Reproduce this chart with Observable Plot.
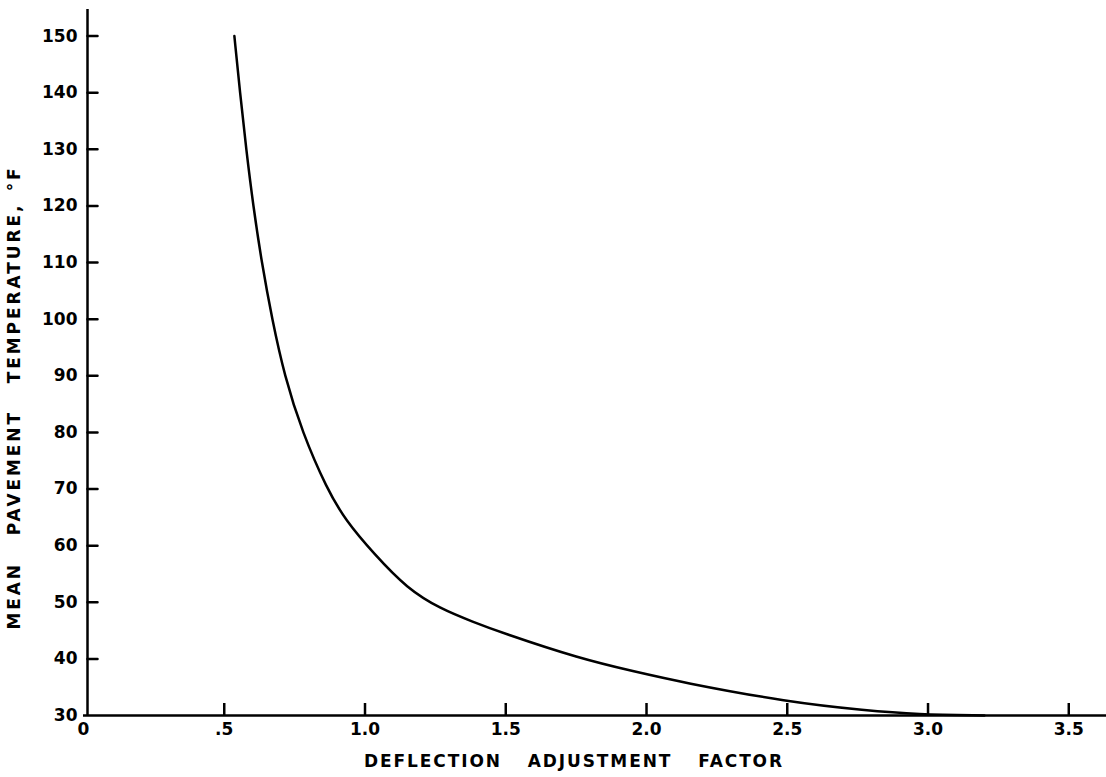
<!DOCTYPE html>
<html><head><meta charset="utf-8">
<script src="https://cdn.jsdelivr.net/npm/d3@7"></script>
<script src="https://cdn.jsdelivr.net/npm/@observablehq/plot@0.6"></script>
<style>body{margin:0;background:#fff}</style>
</head><body><div id="chart"></div>
<script>
const factor = [0.536, 0.556, 0.578, 0.603, 0.633, 0.670, 0.714, 0.777, 0.865, 0.931, 1.031, 1.15, 1.268, 1.386, 1.481, 1.766, 1.955, 2.121, 2.505, 2.78, 2.96, 3.2];
const temperature = [150, 140, 130, 120, 110, 100, 90, 80, 70, 64.45, 58.6, 52.4, 48.85, 46.5, 44.7, 40, 37.8, 35.9, 32.35, 30.9, 30.2, 30];
const xTicks = [0, 0.5, 1, 1.5, 2, 2.5, 3, 3.5];
const xTickLabels = ["0", ".5", "1.0", "1.5", "2.0", "2.5", "3.0", "3.5"];
const yTicks = [30, 40, 50, 60, 70, 80, 90, 100, 110, 120, 130, 140, 150];
const xTitle = "DEFLECTION ADJUSTMENT FACTOR";
const yTitle = "MEAN PAVEMENT TEMPERATURE,\u2002°F";

const data = factor.map((f, i) => ({factor: f, temp: temperature[i]}));

const W = 1106, H = 777, mL = 83, mR = 0, mT = 9, mB = 62;
const xDomain = [0, 3.634], yDomain = [30, 154.7];

const chart = Plot.plot({
  width: W, height: H,
  marginLeft: mL, marginRight: mR, marginTop: mT, marginBottom: mB,
  x: {domain: xDomain},
  y: {domain: yDomain},
  style: {fontFamily: "DejaVu Sans", fontSize: "17px", color: "#000", background: "#fff"},
  marks: [
    Plot.axisX(xTicks, {tickSize: 0, tickPadding: 7, tickFormat: d => xTickLabels[xTicks.indexOf(d)], label: null, fontWeight: "bold"}),
    Plot.axisY(yTicks, {tickSize: 0, tickPadding: 6, label: null, fontWeight: "bold"}),
    Plot.tickX(xTicks.slice(1), {x: d => d, insetTop: H - mT - mB - 12, stroke: "#000", strokeWidth: 2.5}),
    Plot.vector(yTicks.slice(1), {x: () => xDomain[0], y: d => d, length: 10, r: 0, rotate: 90, anchor: "start", dx: 4, stroke: "#000", strokeWidth: 2.5}),
    Plot.ruleY([30], {stroke: "#000", strokeWidth: 2.5}),
    Plot.ruleX([0], {stroke: "#000", strokeWidth: 2.5, dx: 4}),
    Plot.line(data, {x: "factor", y: "temp", curve: "basis", stroke: "#000", strokeWidth: 2.5}),
    Plot.text([xTitle], {frameAnchor: "bottom", lineAnchor: "middle", textAnchor: "middle", dy: 46, dx: -21, fontWeight: "bold", fontSize: 17, className: "xtitle"}),
    Plot.text([yTitle], {frameAnchor: "left", textAnchor: "middle", lineAnchor: "middle", rotate: -90, dx: -69, dy: 35, fontWeight: "bold", fontSize: 17, className: "ytitle"})
  ]
});
d3.select(chart).selectAll(".xtitle text").style("word-spacing", "18px").style("letter-spacing", "1.9px");
d3.select(chart).selectAll(".ytitle text").style("word-spacing", "18px").style("letter-spacing", "2.9px");
document.getElementById("chart").appendChild(chart);
</script>
</body></html>
